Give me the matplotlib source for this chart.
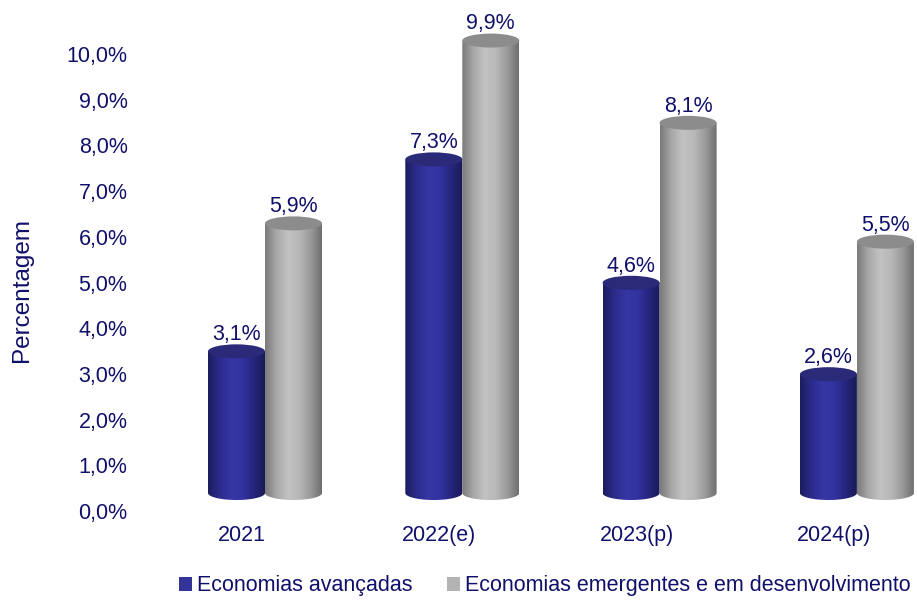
import numpy as np
import matplotlib
matplotlib.use('Agg')
from matplotlib import pyplot as plt
from matplotlib.patches import Ellipse, PathPatch, Rectangle
from matplotlib.path import Path
from matplotlib.colors import LinearSegmentedColormap

plt.rcParams['font.family'] = ['Liberation Sans', 'DejaVu Sans']

categories = ['2021', '2022(e)', '2023(p)', '2024(p)']
advanced = [3.1, 7.3, 4.6, 2.6]
emerging = [5.9, 9.9, 8.1, 5.5]
series_names = ['Economias avançadas', 'Economias emergentes e em desenvolvimento']
yticks = np.arange(0, 11, 1)

NAVY = '#10106b'
FS = 15.5
blue_cmap = LinearSegmentedColormap.from_list(
    'blue_cyl', ['#1c1c5e', '#2c2c8c', '#3636a4', '#3232a0', '#26267c', '#1a1a58'])
gray_cmap = LinearSegmentedColormap.from_list(
    'gray_cyl', ['#7a7a7a', '#a8a8a8', '#c2c2c2', '#b8b8b8', '#9a9a9a', '#6e6e6e'])
top_colors = ['#2a2a78', '#8c8c8c']
side_colors = ['#333399', '#b3b3b3']

fig = plt.figure(figsize=(9.17, 6.0), dpi=100)
ax = fig.add_axes([140 / 917, 89 / 600, 777 / 917, 481 / 600])
ax.set_xlim((140 - 242) / 197.3, (917 - 242) / 197.3)
ax.set_ylim(0, 481 / 45.7)

# pseudo-3D depth offset of the bar floor
depth_x = 23 / 197.3
depth_y = 18 / 45.7
bar_w = 57 / 197.3
ell_h = 14 / 45.7


def cylinder(cx, value, cmap, top_color):
    base = depth_y
    top = depth_y + value
    t = np.linspace(np.pi, 2 * np.pi, 60)
    xs = cx + bar_w / 2 * np.cos(t)
    ys = base + ell_h / 2 * np.sin(t)
    verts = list(zip(xs, ys)) + [(cx + bar_w / 2, top), (cx - bar_w / 2, top), (xs[0], ys[0])]
    codes = [Path.MOVETO] + [Path.LINETO] * (len(verts) - 2) + [Path.CLOSEPOLY]
    body = PathPatch(Path(verts, codes), facecolor='none', edgecolor='none')
    ax.add_patch(body)
    grad = np.linspace(0, 1, 256).reshape(1, -1)
    im = ax.imshow(grad, cmap=cmap, aspect='auto', interpolation='bicubic',
                   extent=(cx - bar_w / 2, cx + bar_w / 2, base - ell_h, top), zorder=2)
    im.set_clip_path(body)
    ax.add_patch(Ellipse((cx, top), bar_w, ell_h, facecolor=top_color,
                         edgecolor='none', zorder=3))
    return top


for i, (a, e) in enumerate(zip(advanced, emerging)):
    pair_c = i + depth_x
    for j, (val, cmap) in enumerate([(a, blue_cmap), (e, gray_cmap)]):
        cx = pair_c + (j - 0.5) * bar_w
        top = cylinder(cx, val, cmap, top_colors[j])
        ax.text(cx, top + ell_h / 2 - 0.02, f'{val:.1f}%'.replace('.', ','),
                ha='center', va='bottom', fontsize=FS, color=NAVY, zorder=5)

ax.set_yticks(yticks)
ax.set_yticklabels([f'{v:.1f}%'.replace('.', ',') for v in yticks])
ax.set_xticks(range(len(categories)))
ax.set_xticklabels(categories)
ax.tick_params(axis='both', length=0, labelsize=FS, labelcolor=NAVY)
ax.tick_params(axis='y', pad=9)
ax.tick_params(axis='x', pad=10)
for s in ax.spines.values():
    s.set_visible(False)

fig.text(22 / 917, 1 - 290 / 600, 'Percentagem', rotation=90, ha='center', va='center',
         fontsize=17.5, color=NAVY)

handles = [Rectangle((0, 0), 1, 1, facecolor=c) for c in side_colors]
fig.legend(handles, series_names, loc='center', bbox_to_anchor=(545 / 917, 1 - 586 / 600),
           ncol=2, frameon=False, fontsize=FS, labelcolor=NAVY, handlelength=0.6,
           handleheight=0.6, handletextpad=0.25, columnspacing=1.6)

fig.savefig('out.png', dpi=100)
